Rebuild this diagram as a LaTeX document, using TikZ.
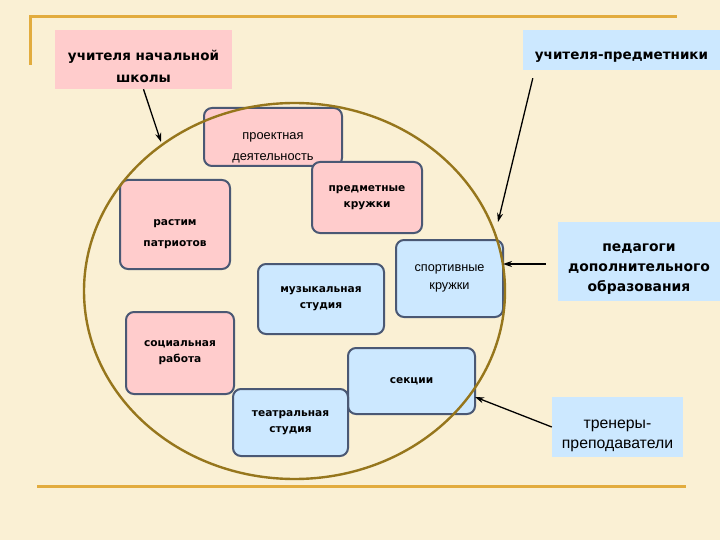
\documentclass[tikz,border=0pt]{standalone}
\usepackage{fontspec}
\newfontfamily\dvs{DejaVu Sans}
\newfontfamily\lib{Liberation Sans}
\usetikzlibrary{arrows.meta}
\definecolor{bgcol}{RGB}{250,240,212}
\definecolor{goldline}{RGB}{226,172,62}
\definecolor{olive}{RGB}{150,118,28}
\definecolor{pinkf}{RGB}{255,204,204}
\definecolor{bluef}{RGB}{204,232,255}
\definecolor{edgec}{RGB}{74,88,116}
\tikzset{
  rbox/.style={draw=edgec, line width=2pt, rounded corners=8pt, align=center, inner sep=0pt},
  pinkbox/.style={rbox, fill=pinkf},
  bluebox/.style={rbox, fill=bluef},
  boldtxt/.style={font=\dvs\bfseries\fontsize{10.6}{16}\selectfont},
  regtxt/.style={font=\lib\fontsize{12.7}{18}\selectfont},
  bigbold/.style={font=\dvs\bfseries\fontsize{13.5}{22.5}\selectfont, align=center, inner sep=0pt},
  arr/.style={-{Stealth[length=9pt,width=6pt]}, line width=1.3pt, black},
}
\begin{document}
\begin{tikzpicture}[x=1pt,y=-1pt]
\fill[bgcol] (0,0) rectangle (720,540);
\useasboundingbox (0,0) rectangle (720,540);
% frame lines
\draw[goldline, line width=3pt] (30,65) -- (30,17) -- (677,17);
\draw[goldline, line width=3pt] (37,486) -- (686,486);
% outside labels
\node[bigbold, fill=pinkf, minimum width=177pt, minimum height=59pt] (init) at (143.5,59.5)
  {\rule{0pt}{24pt}учителя начальной\\школы};
\node[bigbold, fill=bluef, minimum width=197pt, minimum height=40pt] (predt) at (621.5,50)
  {\rule{0pt}{22pt}учителя-предметники};
\node[bigbold, fill=bluef, minimum width=162pt, minimum height=79pt, font=\dvs\bfseries\fontsize{13.9}{20}\selectfont] (ped) at (639,261.5)
  {\rule{0pt}{22pt}педагоги\\дополнительного\\образования};
\node[regtxt, fill=bluef, align=center, inner sep=0pt, minimum width=131pt, minimum height=60pt, font=\lib\fontsize{15.8}{20}\selectfont] (tren) at (617.5,427)
  {\rule{0pt}{26pt}тренеры-\\преподаватели};
% inner boxes
\node[pinkbox, regtxt, minimum width=138pt, minimum height=58pt, font=\lib\fontsize{12.8}{21}\selectfont] (proj) at (273,137)
  {\rule{0pt}{28pt}проектная\\деятельность};
\node[pinkbox, boldtxt, minimum width=110pt, minimum height=71pt] (pkr) at (367,197.5)
  {предметные\\кружки};
\node[pinkbox, boldtxt, minimum width=110pt, minimum height=89pt, font=\dvs\bfseries\fontsize{10.6}{21}\selectfont] (rast) at (175,224.5)
  {\rule{0pt}{26pt}растим\\патриотов};
\node[bluebox, regtxt, minimum width=107pt, minimum height=77pt] (sport) at (449.5,278.5)
  {спортивные\\кружки};
\node[bluebox, boldtxt, minimum width=126pt, minimum height=70pt] (muz) at (321,299)
  {музыкальная\\студия};
\node[pinkbox, boldtxt, minimum width=108pt, minimum height=82pt] (soc) at (180,353)
  {социальная\\работа};
\node[bluebox, boldtxt, minimum width=127pt, minimum height=66pt] (sek) at (411.5,381)
  {секции};
\node[bluebox, boldtxt, minimum width=115pt, minimum height=67pt] (teat) at (290.5,422.5)
  {театральная\\студия};
% big ellipse
\draw[olive, line width=2.4pt] (294.5,291) ellipse [x radius=210.5, y radius=188];
% arrow end points on the ellipse
\coordinate (e1) at (161,142);
\coordinate (e2) at (498,222);
\coordinate (e3) at (503,264);
\coordinate (e4) at (475,397);
\draw[arr] (init.south) -- (e1);
\draw[arr] ([xshift=10pt,yshift=-8pt]predt.south west) -- (e2);
\draw[arr] ([xshift=-12pt,yshift=-2.5pt]ped.west) -- (e3);
\draw[arr] (tren.west) -- (e4);
\end{tikzpicture}
\end{document}
